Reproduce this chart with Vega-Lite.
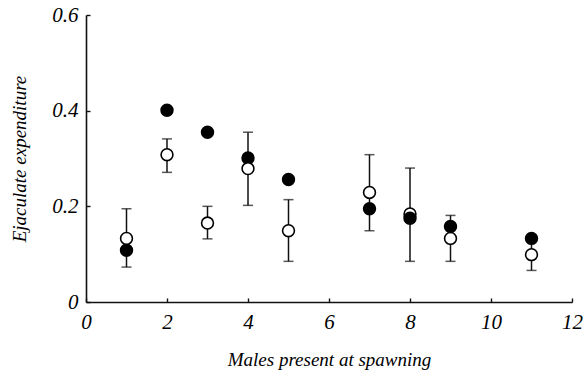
{
  "$schema": "https://vega.github.io/schema/vega-lite/v6.json",
  "width": 486,
  "height": 287,
  "autosize": "none",
  "padding": {"left": 86, "top": 15, "right": 12, "bottom": 72},
  "background": "white",
  "config": {
    "view": {"stroke": null},
    "font": "Liberation Serif",
    "axis": {
      "labelFont": "Liberation Serif",
      "titleFont": "Liberation Serif",
      "labelFontStyle": "italic",
      "titleFontStyle": "italic",
      "labelFontSize": 21,
      "titleFontSize": 19,
      "titleFontWeight": "normal",
      "labelColor": "black",
      "titleColor": "black",
      "domainColor": "#111",
      "domainWidth": 1.6,
      "tickColor": "#111",
      "tickWidth": 1.4,
      "grid": false
    }
  },
  "datasets": {
    "pts": [
      {"males": 1, "group": "filled", "value": 0.108},
      {"males": 1, "group": "open", "value": 0.133},
      {"males": 2, "group": "open", "value": 0.308},
      {"males": 2, "group": "filled", "value": 0.401},
      {"males": 3, "group": "open", "value": 0.165},
      {"males": 3, "group": "filled", "value": 0.355},
      {"males": 4, "group": "filled", "value": 0.301},
      {"males": 4, "group": "open", "value": 0.279},
      {"males": 5, "group": "open", "value": 0.149},
      {"males": 5, "group": "filled", "value": 0.256},
      {"males": 7, "group": "filled", "value": 0.195},
      {"males": 7, "group": "open", "value": 0.229},
      {"males": 8, "group": "open", "value": 0.184},
      {"males": 8, "group": "filled", "value": 0.175},
      {"males": 9, "group": "open", "value": 0.133},
      {"males": 9, "group": "filled", "value": 0.158},
      {"males": 11, "group": "open", "value": 0.099},
      {"males": 11, "group": "filled", "value": 0.133}
    ],
    "err": [
      {"males": 1, "lo": 0.073, "hi": 0.195},
      {"males": 2, "lo": 0.271, "hi": 0.341},
      {"males": 3, "lo": 0.132, "hi": 0.200},
      {"males": 4, "lo": 0.202, "hi": 0.355},
      {"males": 5, "lo": 0.085, "hi": 0.214},
      {"males": 7, "lo": 0.149, "hi": 0.308},
      {"males": 8, "lo": 0.085, "hi": 0.280},
      {"males": 9, "lo": 0.085, "hi": 0.181},
      {"males": 11, "lo": 0.066, "hi": 0.132}
    ]
  },
  "layer": [
    {
      "data": {"name": "err"},
      "mark": {"type": "rule", "color": "#111", "strokeWidth": 1.5},
      "encoding": {
        "x": {
          "field": "males",
          "type": "quantitative",
          "scale": {"domain": [0, 12], "nice": false, "zero": false},
          "axis": {
            "title": "Males present at spawning",
            "values": [0, 2, 4, 6, 8, 10, 12],
            "labelFont": "Liberation Serif",
            "labelFontStyle": "italic",
            "labelFontSize": 21,
            "tickSize": -4,
            "labelPadding": 13,
            "titlePadding": 18,
            "labelFlush": false,
            "labelOverlap": false
          }
        },
        "y": {
          "field": "lo",
          "type": "quantitative",
          "scale": {"domain": [0, 0.6], "nice": false},
          "axis": {
            "title": "Ejaculate expenditure",
            "values": [0, 0.2, 0.4, 0.6],
            "labelExpr": "datum.value === 0 ? '0' : format(datum.value, '.1f')",
            "labelFont": "Liberation Serif",
            "labelFontStyle": "italic",
            "labelFontSize": 21,
            "tickSize": -4,
            "labelPadding": 12,
            "titlePadding": 22,
            "labelFlush": false,
            "labelOverlap": false
          }
        },
        "y2": {"field": "hi"}
      }
    },
    {
      "data": {"name": "err"},
      "mark": {"type": "tick", "orient": "horizontal", "color": "#111", "size": 10, "thickness": 1.5},
      "encoding": {
        "x": {"field": "males", "type": "quantitative"},
        "y": {"field": "lo", "type": "quantitative"}
      }
    },
    {
      "data": {"name": "err"},
      "mark": {"type": "tick", "orient": "horizontal", "color": "#111", "size": 10, "thickness": 1.5},
      "encoding": {
        "x": {"field": "males", "type": "quantitative"},
        "y": {"field": "hi", "type": "quantitative"}
      }
    },
    {
      "data": {"name": "pts"},
      "mark": {"type": "point", "filled": false, "stroke": "black", "strokeWidth": 1.6, "size": 140, "opacity": 1},
      "encoding": {
        "x": {"field": "males", "type": "quantitative"},
        "y": {"field": "value", "type": "quantitative"},
        "fill": {
          "field": "group",
          "type": "nominal",
          "scale": {"domain": ["filled", "open"], "range": ["black", "white"]},
          "legend": null
        }
      }
    }
  ]
}
